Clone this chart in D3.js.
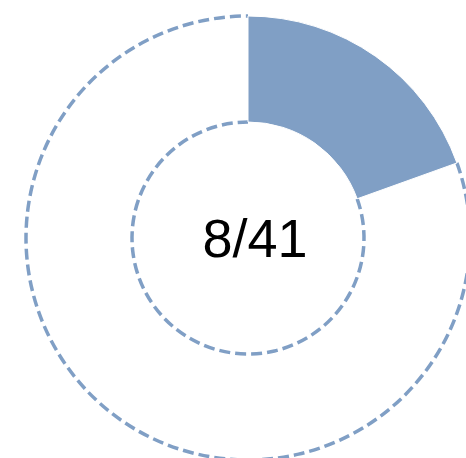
<!DOCTYPE html>
<html><head><meta charset="utf-8">
<script src="https://cdn.jsdelivr.net/npm/d3@7"></script>
<style>html,body{margin:0;padding:0;background:#fff;overflow:hidden}</style>
</head><body>
<svg id="c" width="466" height="458"></svg>
<script>
const categories = ["Done", "Remaining"];
const values = [8, 33];
const label = "8/41";

const svg = d3.select("#c");
const cx = 248, cy = 238, rOuter = 222, rInner = 116;
const color = "#809fc5";
const g = svg.append("g").attr("transform", `translate(${cx},${cy})`);
const pie = d3.pie().sort(null).value(d => d)(values);
const arc = d3.arc().innerRadius(rInner).outerRadius(rOuter);

// remaining slice: white with dashed outline on its arcs
g.append("path").datum(pie[1]).attr("d", arc).attr("fill", "#fff");
[rOuter, rInner].forEach(r => {
  const s = pie[1].startAngle - Math.PI / 2, e = pie[1].endAngle - Math.PI / 2;
  const p = d3.path();
  p.moveTo(r * Math.cos(s), r * Math.sin(s));
  p.arc(0, 0, r, s, e);
  g.append("path").attr("d", p.toString())
    .attr("fill", "none").attr("stroke", color).attr("stroke-width", 3.5)
    .attr("stroke-dasharray", "11,5");
});
// filled slice
g.append("path").datum(pie[0]).attr("d", arc)
  .attr("fill", color).attr("stroke", "#fff").attr("stroke-width", 1);

svg.append("text").attr("x", 255).attr("y", 257).attr("text-anchor", "middle")
  .attr("font-family", "Liberation Sans, Arial, sans-serif").attr("font-size", 54)
  .attr("fill", "#000").text(label);
</script>
</body></html>
